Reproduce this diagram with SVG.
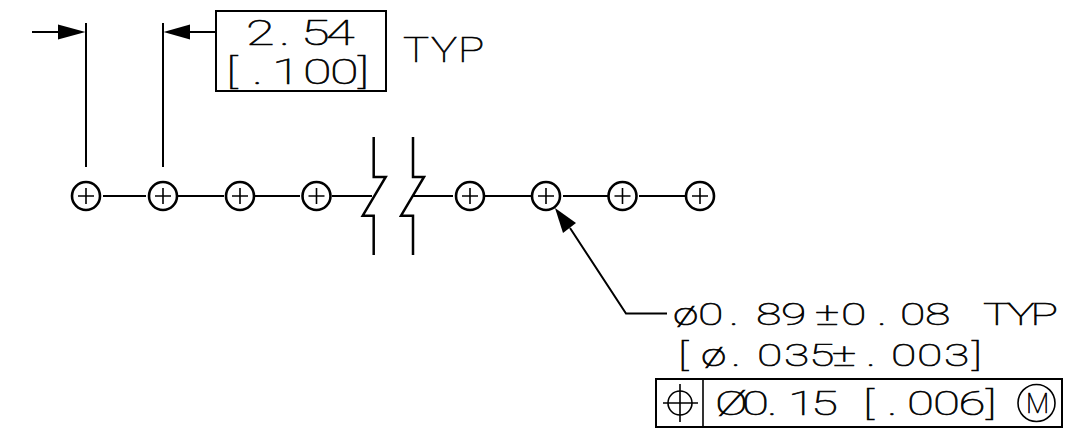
<svg xmlns="http://www.w3.org/2000/svg" width="1079" height="442" viewBox="0 0 1079 442">
<style>
.l{fill:none;stroke:#000;stroke-width:2.5}
.t{fill:none;stroke:#000;stroke-width:2}
.a{fill:#000;stroke:none}
.h{fill:#fff;stroke:#000;stroke-width:2.6}
.p{fill:none;stroke:#000;stroke-width:1.6}
text{font-family:"Roboto","Liberation Sans",sans-serif;font-weight:100;fill:#000;stroke:#000;stroke-width:.6}
.c{transform:scale(1.45,1)}
.d{transform:scale(1.25,1)}
</style>
<defs>
<g id="hole"><circle r="14" class="h"/><path d="M-8 0H8M0-8V8" class="p"/></g>
</defs>
<rect width="1079" height="442" fill="#fff"/>
<g id="connectors">
<path class="t" d="M86 23V167M163 23V167M32 32H60M190 32H216"/>
<path class="a" d="M85.500 32L58 24.500V39.500Z"/>
<path class="a" d="M163.500 32L190 24.500V39.500Z"/>
<path class="t" d="M103 196H146M178 196H224M255 196H300M332 196H372M413 196H453M485 196H531M563 196H608M639 196H685"/>
<path class="l" d="M373.700 137V177H385.700L362.700 215.700H373.700V255"/>
<path class="l" d="M413 137V177H424L401 215.700H413V255"/>
<path class="t" d="M570 228L626 313.500H667"/>
<path class="a" d="M555 208L576 223L563 233Z"/>
</g>
<g id="holes">
<use id="hole-1" href="#hole" x="86" y="196"/>
<use id="hole-2" href="#hole" x="163" y="196"/>
<use id="hole-3" href="#hole" x="240" y="196"/>
<use id="hole-4" href="#hole" x="316.500" y="196"/>
<use id="hole-5" href="#hole" x="470" y="196"/>
<use id="hole-6" href="#hole" x="546" y="196"/>
<use id="hole-7" href="#hole" x="622.500" y="196"/>
<use id="hole-8" href="#hole" x="700" y="196"/>
</g>
<g id="pitch-label">
<rect x="216" y="11" width="170" height="80" fill="none" stroke="#000" stroke-width="2"/>
<text class="c" font-size="36" y="45" x="169.7 192.4 207.6 224.8">2.54</text>
<text class="c" font-size="36" y="84" x="155.9 173.8 187.6 209 227.6 246.9">[.100]</text>
<text class="d" font-size="35" y="62" x="322.4 344.8 366.4">TYP</text>
</g>
<g id="hole-label">
<text class="c" font-size="32" y="325" x="464.1 481.4 502.8 521.4 538.6 562.1 580 604.8 620.7 637.9 662.1 678 694.5 710.500">ø0.89±0.08 TYP</text>
<text class="c" font-size="32" y="366" x="467.6 483.4 504.1 522.1 540.7 557.9 573.8 597.2 614.5 632.4 651 670.3">[ø.035±.003]</text>
</g>
<g id="tolerance-frame">
<rect x="656" y="379" width="406" height="48" fill="none" stroke="#000" stroke-width="2"/>
<path class="p" d="M703 379V427M663 403H698M680 384V422"/>
<circle cx="680" cy="403" r="12" class="p"/>
<text class="c" font-size="34" y="415" x="493.1 511.7 529 543.4 559.3 579.3 595.2 611.7 625.5 643.5 661 680">Ø0.15 [.006]</text>
<circle cx="1036.500" cy="403" r="18.500" class="p"/>
<text font-size="27" y="413" x="1026">M</text>
</g>
</svg>
